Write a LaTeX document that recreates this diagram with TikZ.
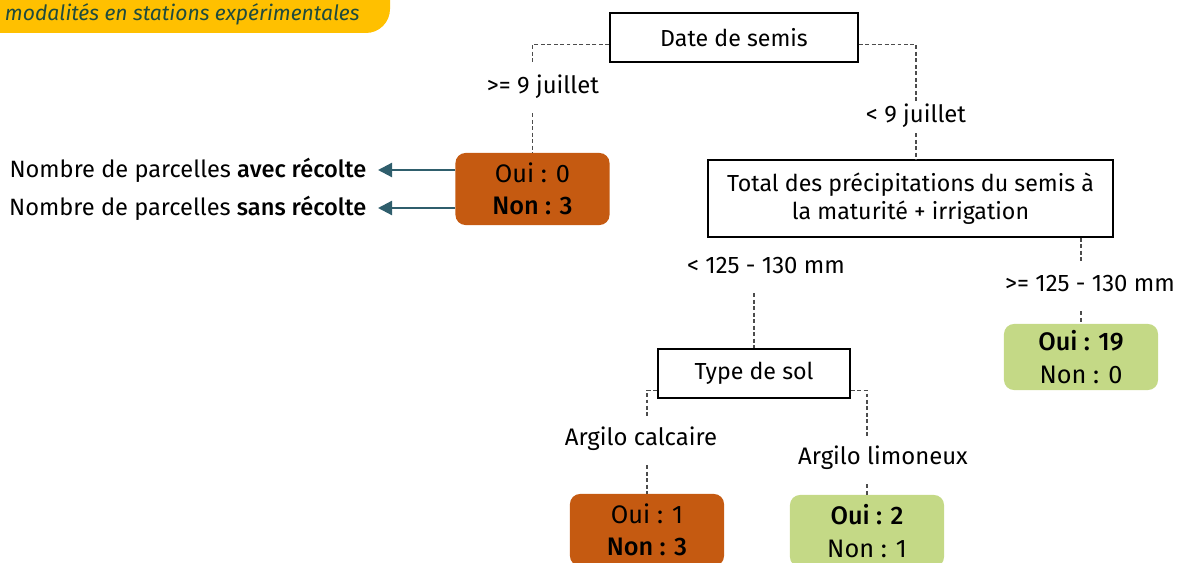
\documentclass[tikz,border=0pt]{standalone}
\usepackage{fontspec}
\setmainfont{Fira Sans}[BoldFont={Fira Sans Medium}]
\usetikzlibrary{arrows.meta}
\definecolor{rouille}{HTML}{C55A11}
\definecolor{vert}{HTML}{C4D986}
\definecolor{bleu}{HTML}{2F5E6C}
\definecolor{jaune}{HTML}{FFC000}
\definecolor{titre}{HTML}{1F4B3E}
\begin{document}
\begin{tikzpicture}
[ x=0.025cm, y=-0.025cm
, question/.style={rectangle, draw, line width=1pt, font=\fontsize{16.5}{20}\selectfont}
, resultat/.style={rectangle, rounded corners=2.5mm, align=center, minimum width=3.85cm, minimum height=1.8cm, font=\fontsize{18}{23}\selectfont}
, perdu/.style={resultat, fill=rouille}
, gagne/.style={resultat, fill=vert}
, cond/.style={minimum height=1.2cm, text height=1.5ex, text depth=0.4ex, font=\fontsize{17}{20}\selectfont}
, legende/.style={anchor=east, outer sep=5pt, font=\fontsize{16.8}{20}\selectfont}
, link/.style={draw=black!70, line width=1pt, dash pattern=on 2.8pt off 1.8pt}
, renvoi/.style={draw=bleu, line width=1.6pt, -{Triangle[length=10pt, width=10pt]}}
]
\useasboundingbox (0,0) rectangle (1181,563);
% bandeau
\fill [jaune, rounded corners=0.6cm] (-40,-40) rectangle (390,33);
\node (bandeau) [anchor=west, text=titre, font=\fontsize{15}{17}\selectfont\itshape] at (0,14) {modalités en stations expérimentales};
% questions
\node (date) [question, minimum width=6.2cm, minimum height=1.225cm] at (734,37.5) {Date de semis};
\node (total) [question, align=center, minimum width=10.125cm, minimum height=1.925cm] at (910.5,198.5)
  {Total des précipitations du semis à\\la maturité + irrigation};
\node (sol) [question, minimum width=4.8cm, minimum height=1.225cm] at (754,373.5) {Type de sol};
% resultats
\node (res0) [perdu] at (532.5,189) {Oui : 0\\\textbf{Non : 3}};
\node (res19) [gagne, minimum height=1.65cm] at (1081,357) {\textbf{Oui : 19}\\Non : 0};
\node (res1) [perdu] at (647,530) {Oui : 1\\\textbf{Non : 3}};
\node (res2) [gagne] at (867,531) {\textbf{Oui : 2}\\Non : 1};
% conditions
\node (apres) [cond] at (543,89) {>= 9 juillet};
\node (avant) [cond, minimum height=0.75cm] at (916,118) {< 9 juillet};
\node (moins) [cond] at (766,269) {< 125 - 130 mm};
\node (plus) [cond] at (1090,287) {>= 125 - 130 mm};
\node (calc) [cond] at (641,441) {Argilo calcaire};
\node (limon) [cond] at (883,460) {Argilo limoneux};
% legende
\node (avec) [legende] at (378,170) {Nombre de parcelles \textbf{avec récolte}};
\node (sans) [legende] at (378,208) {Nombre de parcelles \textbf{sans récolte}};
% liens
\draw [link] ([yshift=-5pt]date.west) -| (apres.north -| res0.north);
\draw [link] (apres.south -| res0.north) -- (res0.north);
\draw [link] ([yshift=-5pt]date.east) -| (avant.north);
\draw [link] (avant.south) -- (avant.south |- total.north);
\draw [link] (total.south -| res19.north) -- (plus.north -| res19.north);
\draw [link] (plus.south -| res19.north) -- (res19.north);
\draw [link] (moins.south -| sol.north) -- (sol.north);
\draw [link] ([yshift=-12pt]sol.west) -| (calc.north -| res1.north);
\draw [link] (calc.south -| res1.north) -- (res1.north);
\draw [link] ([yshift=-12pt]sol.east) -| (limon.north -| res2.north);
\draw [link] (limon.south -| res2.north) -- (res2.north);
\draw [renvoi] (res0.west |- avec.east) -- (avec.east);
\draw [renvoi] (res0.west |- sans.east) -- (sans.east);
\end{tikzpicture}
\end{document}
